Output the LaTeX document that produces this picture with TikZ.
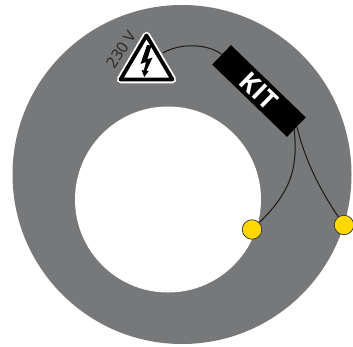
\documentclass[tikz,border=0pt]{standalone}
\usepackage{fontspec}
\setmainfont{Open Sans}
\definecolor{ringgray}{HTML}{77787A}
\definecolor{lampyellow}{HTML}{FFD800}
\begin{document}
\begin{tikzpicture}[x=1pt,y=-1pt,
  wire/.style={draw=black!90,line width=1pt},
  lamp/.style={circle,draw=black!80,fill=lampyellow,line width=0.7pt,minimum size=19.5pt,inner sep=0pt}]
\useasboundingbox (0,0) rectangle (353,346);
\fill[white] (0,0) rectangle (353,346);
\fill[ringgray] (182,174.5) circle[radius=169.5];
\fill[white] (168,199.5) circle[radius=93];
% warning sign
\coordinate (wa) at (146.5,35.5);
\coordinate (wb) at (120.5,79.5);
\coordinate (wc) at (172.5,79.5);
\draw[white,fill=white,line width=7.5pt,line join=round] (wa)--(wb)--(wc)--cycle;
\draw[black,fill=white,line width=3.8pt,line join=round] (wa)--(wb)--(wc)--cycle;
\fill[black] (147,45) -- (140.5,64) -- (146,62) -- (143.8,70.5) -- (141.5,70) -- (144.3,77) -- (148.7,71) -- (146.4,70.7) -- (152.5,57.5) -- (147.3,59.3) -- (151.5,45.5) -- cycle;
\node[rotate=56,text=black!85,font=\fontsize{15.5}{15.5}\selectfont,inner sep=0pt] (volt) at (121,49.5) {230 V};
% box
\node[rotate=-44,fill=black,text=white,minimum width=104pt,minimum height=27pt,inner sep=0pt,font=\fontsize{26}{26}\selectfont\bfseries] (kit) at (259,91) {KIT};
\coordinate (w1s) at (163,53);
\coordinate (w1e) at (223,55);
\draw[wire] (w1s) .. controls (178,44) and (205,42) .. (w1e);
\node[lamp] (l1) at (252,229.5) {};
\node[lamp] (l2) at (344,225) {};
\coordinate (w2s) at (294,128);
\coordinate (w3s) at (297,127);
\draw[wire] (w2s) .. controls (298,165) and (293,190) .. (l1);
\draw[wire] (w3s) .. controls (305,160) and (320,190) .. (l2);
\end{tikzpicture}
\end{document}
